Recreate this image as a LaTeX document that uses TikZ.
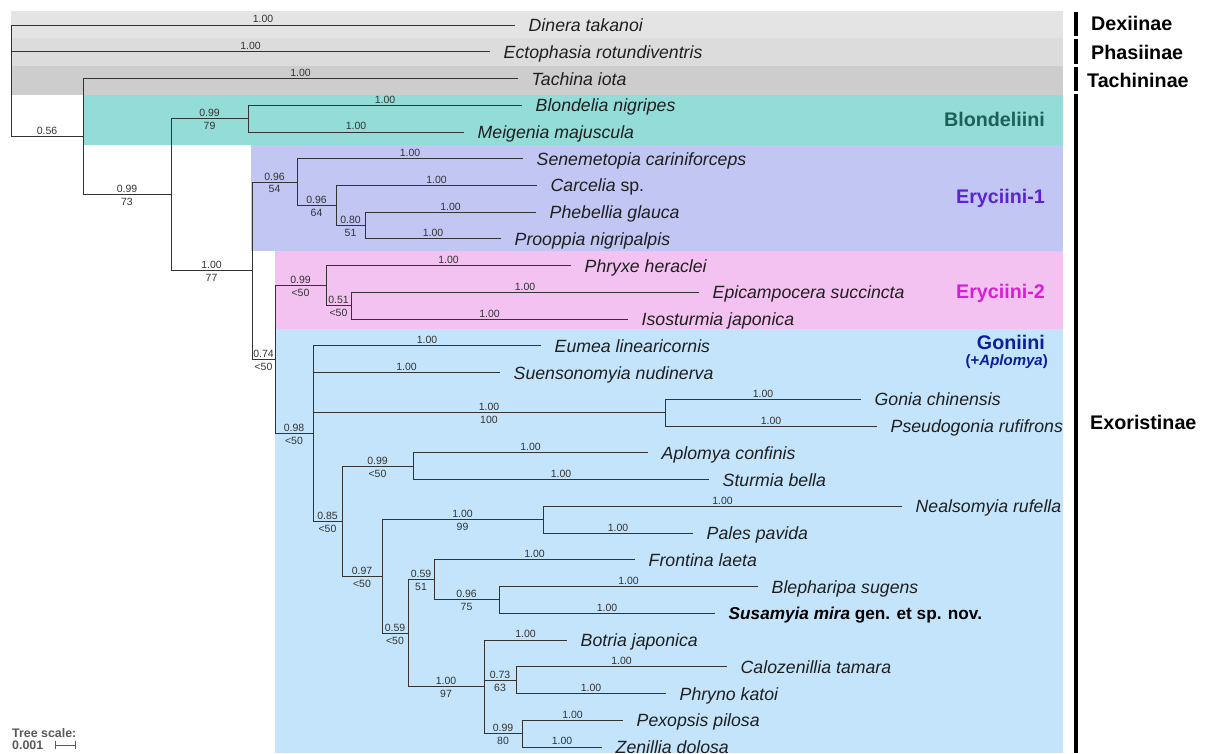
\documentclass[tikz,border=0pt]{standalone}
\usepackage{fontspec}
\setmainfont{Liberation Sans}
\usepackage{tikz}

\definecolor{bandDex}{HTML}{E4E4E4}
\definecolor{bandPha}{HTML}{DCDCDC}
\definecolor{bandTac}{HTML}{CDCDCD}
\definecolor{bandBlo}{HTML}{93DCD7}
\definecolor{bandEryA}{HTML}{C2C6F3}
\definecolor{bandEryB}{HTML}{F3C2F0}
\definecolor{bandGon}{HTML}{C3E4FB}
\definecolor{txtBlo}{HTML}{1E5F58}
\definecolor{txtEryA}{HTML}{5B22D8}
\definecolor{txtEryB}{HTML}{D91CD9}
\definecolor{txtGon}{HTML}{0B1E9E}

\begin{document}
\begin{tikzpicture}[x=1pt, y=-1pt,
    br/.style={draw=black!80, line width=1pt},
    pp/.style={pos=0.75, above, inner sep=1.5pt, font=\fontsize{10.5}{11}\selectfont, text=black!80},
    bs/.style={pos=0.75, below, inner sep=3pt, font=\fontsize{10.5}{11}\selectfont, text=black!80},
    leaf/.style={anchor=base west, inner sep=0pt, xshift=13.5pt, yshift=-6.5pt, font=\itshape\fontsize{17.7}{20}\selectfont, text=black!88},
    clade/.style={anchor=east, inner sep=0pt, font=\bfseries\fontsize{19.7}{22}\selectfont},
    subfam/.style={anchor=west, inner sep=0pt, font=\bfseries\fontsize{19.7}{22}\selectfont},
    bar/.style={line width=4pt}]
  \useasboundingbox (0,0) rectangle (1205,753);
  \fill[bandDex] (11,11) rectangle (1063,38);
  \fill[bandPha] (11,38) rectangle (1063,65.5);
  \fill[bandTac] (11,65.5) rectangle (1063,95);
  \fill[bandBlo] (83,95) rectangle (1063,145);
  \fill[bandEryA] (251,145) rectangle (1063,251);
  \fill[bandEryB] (275,251) rectangle (1063,329);
  \fill[bandGon] (275,329) rectangle (1063,753);

  \coordinate (R) at (11,80.8);
  \coordinate (A) at (83,136.6);
  \coordinate (B) at (171,194.8);
  \coordinate (Bl) at (248,118.6);
  \coordinate (C) at (252,270.9);
  \coordinate (E1) at (297,182.1);
  \coordinate (E1b) at (336,205.5);
  \coordinate (E1c) at (365,225.6);
  \coordinate (D) at (275,359.7);
  \coordinate (E2) at (326,285.7);
  \coordinate (E2b) at (351,305.8);
  \coordinate (G) at (313,433.6);
  \coordinate (Gon) at (665,412.7);
  \coordinate (H) at (342,521.4);
  \coordinate (Apl) at (413,466.2);
  \coordinate (I) at (382,576.5);
  \coordinate (Nea) at (543,519.7);
  \coordinate (J) at (408,633.3);
  \coordinate (K) at (434,579.9);
  \coordinate (Ble) at (499,599.9);
  \coordinate (L) at (484,686.8);
  \coordinate (Cal) at (516,680.2);
  \coordinate (Pex) at (522,733.6);

  \coordinate (dinera) at (515,25);
  \coordinate (ectophasia) at (490,51.7);
  \coordinate (tachina) at (518,78.5);
  \coordinate (blondelia) at (522,105.2);
  \coordinate (meigenia) at (464,132);
  \coordinate (senemetopia) at (523,158.7);
  \coordinate (carcelia) at (537,185.4);
  \coordinate (phebellia) at (536,212.2);
  \coordinate (prooppia) at (501,238.9);
  \coordinate (phryxe) at (571,265.7);
  \coordinate (epicampocera) at (699,292.4);
  \coordinate (isosturmia) at (628,319.1);
  \coordinate (eumea) at (541,345.9);
  \coordinate (suensonomyia) at (500,372.6);
  \coordinate (gonia) at (861,399.4);
  \coordinate (pseudogonia) at (877,426.1);
  \coordinate (aplomya) at (648,452.8);
  \coordinate (sturmia) at (709,479.6);
  \coordinate (nealsomyia) at (902,506.3);
  \coordinate (pales) at (693,533.1);
  \coordinate (frontina) at (635,559.8);
  \coordinate (blepharipa) at (758,586.5);
  \coordinate (susamyia) at (715,613.3);
  \coordinate (botria) at (567,640);
  \coordinate (calozenillia) at (727,666.8);
  \coordinate (phryno) at (666,693.5);
  \coordinate (pexopsis) at (623,720.2);
  \coordinate (zenillia) at (602,747);

  \draw[br] (R) |- node[pp]{1.00} (dinera);
  \draw[br] (R) |- node[pp]{1.00} (ectophasia);
  \draw[br] (R) |- node[pp]{0.56} (A);
  \draw[br] (A) |- node[pp]{1.00} (tachina);
  \draw[br] (A) |- node[pp]{0.99} node[bs]{73} (B);
  \draw[br] (B) |- node[pp]{0.99} node[bs]{79} (Bl);
  \draw[br] (Bl) |- node[pp]{1.00} (blondelia);
  \draw[br] (Bl) |- node[pp]{1.00} (meigenia);
  \draw[br] (B) |- node[pp]{1.00} node[bs]{77} (C);
  \draw[br] (C) |- node[pp]{0.96} node[bs]{54} (E1);
  \draw[br] (E1) |- node[pp]{1.00} (senemetopia);
  \draw[br] (E1) |- node[pp]{0.96} node[bs]{64} (E1b);
  \draw[br] (E1b) |- node[pp]{1.00} (carcelia);
  \draw[br] (E1b) |- node[pp]{0.80} node[bs]{51} (E1c);
  \draw[br] (E1c) |- node[pp]{1.00} (phebellia);
  \draw[br] (E1c) |- node[pp]{1.00} (prooppia);
  \draw[br] (C) |- node[pp]{0.74} node[bs]{<50} (D);
  \draw[br] (D) |- node[pp]{0.99} node[bs]{<50} (E2);
  \draw[br] (E2) |- node[pp]{1.00} (phryxe);
  \draw[br] (E2) |- node[pp]{0.51} node[bs]{<50} (E2b);
  \draw[br] (E2b) |- node[pp]{1.00} (epicampocera);
  \draw[br] (E2b) |- node[pp]{1.00} (isosturmia);
  \draw[br] (D) |- node[pp]{0.98} node[bs]{<50} (G);
  \draw[br] (G) |- node[pp]{1.00} (eumea);
  \draw[br] (G) |- node[pp]{1.00} (suensonomyia);
  \draw[br] (G) |- node[pp]{1.00} node[bs]{100} (Gon);
  \draw[br] (Gon) |- node[pp]{1.00} (gonia);
  \draw[br] (Gon) |- node[pp]{1.00} (pseudogonia);
  \draw[br] (G) |- node[pp]{0.85} node[bs]{<50} (H);
  \draw[br] (H) |- node[pp]{0.99} node[bs]{<50} (Apl);
  \draw[br] (Apl) |- node[pp]{1.00} (aplomya);
  \draw[br] (Apl) |- node[pp]{1.00} (sturmia);
  \draw[br] (H) |- node[pp]{0.97} node[bs]{<50} (I);
  \draw[br] (I) |- node[pp]{1.00} node[bs]{99} (Nea);
  \draw[br] (Nea) |- node[pp]{1.00} (nealsomyia);
  \draw[br] (Nea) |- node[pp]{1.00} (pales);
  \draw[br] (I) |- node[pp]{0.59} node[bs]{<50} (J);
  \draw[br] (J) |- node[pp]{0.59} node[bs]{51} (K);
  \draw[br] (K) |- node[pp]{1.00} (frontina);
  \draw[br] (K) |- node[pp]{0.96} node[bs]{75} (Ble);
  \draw[br] (Ble) |- node[pp]{1.00} (blepharipa);
  \draw[br] (Ble) |- node[pp]{1.00} (susamyia);
  \draw[br] (J) |- node[pp]{1.00} node[bs]{97} (L);
  \draw[br] (L) |- node[pp]{1.00} (botria);
  \draw[br] (L) |- node[pp]{0.73} node[bs]{63} (Cal);
  \draw[br] (Cal) |- node[pp]{1.00} (calozenillia);
  \draw[br] (Cal) |- node[pp]{1.00} (phryno);
  \draw[br] (L) |- node[pp]{0.99} node[bs]{80} (Pex);
  \draw[br] (Pex) |- node[pp]{1.00} (pexopsis);
  \draw[br] (Pex) |- node[pp]{1.00} (zenillia);

  \node[leaf] (dineraT) at (dinera) {Dinera takanoi};
  \node[leaf] (ectophasiaT) at (ectophasia) {Ectophasia rotundiventris};
  \node[leaf] (tachinaT) at (tachina) {Tachina iota};
  \node[leaf] (blondeliaT) at (blondelia) {Blondelia nigripes};
  \node[leaf] (meigeniaT) at (meigenia) {Meigenia majuscula};
  \node[leaf] (senemetopiaT) at (senemetopia) {Senemetopia cariniforceps};
  \node[leaf] (carceliaT) at (carcelia) {Carcelia \upshape sp.};
  \node[leaf] (phebelliaT) at (phebellia) {Phebellia glauca};
  \node[leaf] (prooppiaT) at (prooppia) {Prooppia nigripalpis};
  \node[leaf] (phryxeT) at (phryxe) {Phryxe heraclei};
  \node[leaf] (epicampoceraT) at (epicampocera) {Epicampocera succincta};
  \node[leaf] (isosturmiaT) at (isosturmia) {Isosturmia japonica};
  \node[leaf] (eumeaT) at (eumea) {Eumea linearicornis};
  \node[leaf] (suensonomyiaT) at (suensonomyia) {Suensonomyia nudinerva};
  \node[leaf] (goniaT) at (gonia) {Gonia chinensis};
  \node[leaf] (pseudogoniaT) at (pseudogonia) {Pseudogonia rufifrons};
  \node[leaf] (aplomyaT) at (aplomya) {Aplomya confinis};
  \node[leaf] (sturmiaT) at (sturmia) {Sturmia bella};
  \node[leaf] (nealsomyiaT) at (nealsomyia) {Nealsomyia rufella};
  \node[leaf] (palesT) at (pales) {Pales pavida};
  \node[leaf] (frontinaT) at (frontina) {Frontina laeta};
  \node[leaf] (blepharipaT) at (blepharipa) {Blepharipa sugens};
  \node[leaf, text=black, font=\bfseries\fontsize{17.2}{20}\selectfont] (susamyiaT) at (susamyia) {\itshape Susamyia mira \upshape gen. et sp. nov.};
  \node[leaf] (botriaT) at (botria) {Botria japonica};
  \node[leaf] (calozenilliaT) at (calozenillia) {Calozenillia tamara};
  \node[leaf] (phrynoT) at (phryno) {Phryno katoi};
  \node[leaf] (pexopsisT) at (pexopsis) {Pexopsis pilosa};
  \node[leaf] (zenilliaT) at (zenillia) {Zenillia dolosa};

  \node[clade, text=txtBlo] (blondeliini) at (1045,119) {Blondeliini};
  \node[clade, text=txtEryA] (eryciiniA) at (1045,198) {Eryciini-1};
  \node[clade, text=txtEryB] (eryciiniB) at (1045,293) {Eryciini-2};
  \node[clade, text=txtGon] (goniini) at (1045,342) {Goniini};
  \node[clade, text=txtGon, font=\bfseries\fontsize{15}{17}\selectfont] (goniiniAdd) at (1048,362) {(+\itshape Aplomya\upshape )};

  \draw[bar] (1076,12) -- (1076,36);
  \draw[bar] (1076,39) -- (1076,64);
  \draw[bar] (1076,67) -- (1076,91);
  \draw[bar] (1076,94) -- (1076,753);
  \node[subfam] (dexiinae) at (1091,23) {Dexiinae};
  \node[subfam] (phasiinae) at (1091,52) {Phasiinae};
  \node[subfam] (tachininae) at (1087,80) {Tachininae};
  \node[subfam] (exoristinae) at (1090,422) {Exoristinae};

  \node[anchor=west, inner sep=0pt, text=black!65, font=\bfseries\fontsize{12.4}{13}\selectfont] (tscale) at (12,733) {Tree scale:};
  \node[anchor=west, inner sep=0pt, text=black!65, font=\bfseries\fontsize{12.4}{13}\selectfont] (tvalue) at (12,745) {0.001};
  \coordinate (sbA) at (55,745);
  \coordinate (sbB) at (76,745);
  \draw[black!65, line width=0.8pt, {|-|}] (sbA) -- (sbB);
\end{tikzpicture}
\end{document}
